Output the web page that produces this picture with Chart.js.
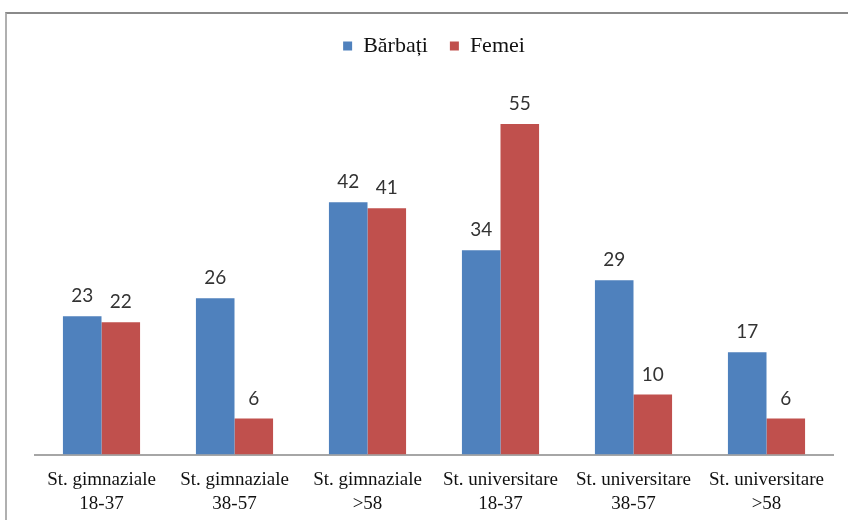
<!DOCTYPE html>
<html>
<head>
<meta charset="utf-8">
<script src="https://cdn.jsdelivr.net/npm/chart.js@4"></script>
<style>
  html, body { margin: 0; padding: 0; background: #fff; }
  #wrap { position: relative; width: 848px; height: 520px; overflow: hidden; background: #fff; }
  #frame { position: absolute; left: 5px; top: 12px; width: 860px; height: 540px;
           border-top: 2px solid #8a8a8a; border-left: 2px solid #b0b0b0; }
  #c { position: absolute; left: 0; top: 0; }
</style>
</head>
<body>
<div id="wrap">
  <div id="frame"></div>
  <canvas id="c" width="848" height="530"></canvas>
</div>
<script>
const categories = [
  ["St. gimnaziale", "18-37"],
  ["St. gimnaziale", "38-57"],
  ["St. gimnaziale", ">58"],
  ["St. universitare", "18-37"],
  ["St. universitare", "38-57"],
  ["St. universitare", ">58"]
];
const seriesNames = ["Bărbați", "Femei"];
const barbati = [23, 26, 42, 34, 29, 17];
const femei = [22, 6, 41, 55, 10, 6];

const labelPlugin = {
  id: 'valueLabels',
  afterDatasetsDraw(chart) {
    const ctx = chart.ctx;
    ctx.save();
    ctx.font = '19px Lato, "Open Sans", sans-serif';
    ctx.fillStyle = '#333333';
    ctx.textAlign = 'center';
    ctx.textBaseline = 'middle';
    chart.data.datasets.forEach((ds, i) => {
      const meta = chart.getDatasetMeta(i);
      meta.data.forEach((bar, j) => {
        ctx.fillText(String(ds.data[j]), bar.x, bar.y - 20);
      });
    });
    ctx.restore();
  }
};

new Chart(document.getElementById('c'), {
  type: 'bar',
  data: {
    labels: categories,
    datasets: [
      { label: seriesNames[0], data: barbati, backgroundColor: '#4f81bd' },
      { label: seriesNames[1], data: femei, backgroundColor: '#c0504d' }
    ]
  },
  options: {
    responsive: false,
    animation: false,
    devicePixelRatio: 1,
    layout: { padding: { left: 35, right: 15, top: 13, bottom: 0 } },
    datasets: { bar: { barPercentage: 1.0, categoryPercentage: 0.58 } },
    plugins: {
      legend: {
        position: 'top',
        labels: {
          boxWidth: 9, boxHeight: 9, padding: 22,
          color: '#111',
          font: { family: '"Liberation Serif", "Times New Roman", serif', size: 22 }
        }
      },
      tooltip: { enabled: false }
    },
    scales: {
      x: {
        grid: { display: false, drawTicks: false },
        border: { display: true, color: '#a6a6a6', width: 2 },
        ticks: {
          color: '#111',
          padding: 14,
          maxRotation: 0,
          font: { family: '"Liberation Serif", "Times New Roman", serif', size: 19, lineHeight: 1.25 }
        }
      },
      y: {
        display: false,
        min: 0,
        max: 64.5
      }
    }
  },
  plugins: [labelPlugin]
});
</script>
</body>
</html>
